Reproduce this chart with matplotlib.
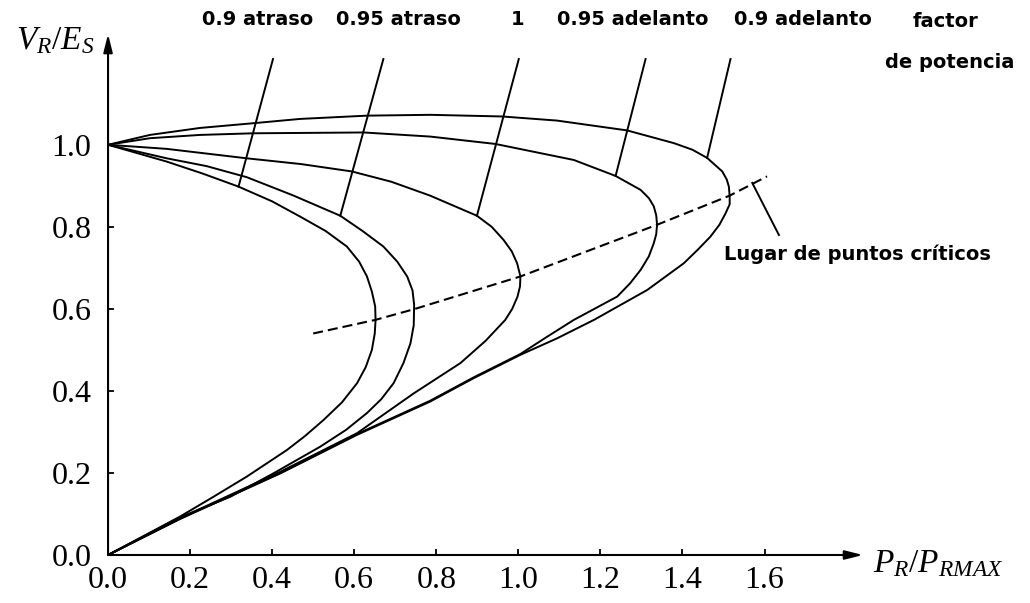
import matplotlib
matplotlib.use("Agg")
import matplotlib.pyplot as plt

plt.rcParams['mathtext.fontset'] = 'custom'
plt.rcParams['mathtext.rm'] = 'Liberation Serif'
plt.rcParams['mathtext.it'] = 'Liberation Serif:italic'

# P_R/P_RMAX and V_R/E_S, one pair per power factor
lag09_p = [0.0, 0.143, 0.230, 0.318, 0.400, 0.468, 0.530, 0.582, 0.612, 0.631, 0.643, 0.651, 0.652, 0.650, 0.643, 0.628, 0.607, 0.570, 0.525, 0.480, 0.436, 0.338, 0.257, 0.176, 0.0]
lag09_v = [1.0, 0.959, 0.930, 0.898, 0.862, 0.825, 0.790, 0.752, 0.715, 0.679, 0.642, 0.606, 0.573, 0.540, 0.500, 0.458, 0.419, 0.372, 0.329, 0.290, 0.256, 0.191, 0.142, 0.094, 0.0]

lag095_p = [0.0, 0.143, 0.240, 0.338, 0.450, 0.566, 0.620, 0.671, 0.705, 0.729, 0.742, 0.746, 0.745, 0.737, 0.720, 0.696, 0.666, 0.631, 0.580, 0.517, 0.403, 0.298, 0.176, 0.0]
lag095_v = [1.0, 0.967, 0.948, 0.921, 0.877, 0.827, 0.790, 0.752, 0.715, 0.679, 0.645, 0.610, 0.560, 0.516, 0.468, 0.419, 0.380, 0.346, 0.305, 0.264, 0.199, 0.142, 0.092, 0.0]

unity_p = [0.0, 0.143, 0.338, 0.470, 0.594, 0.690, 0.785, 0.899, 0.935, 0.964, 0.984, 0.997, 1.005, 1.004, 0.998, 0.985, 0.968, 0.920, 0.859, 0.745, 0.607, 0.420, 0.176, 0.0]
unity_v = [1.0, 0.990, 0.967, 0.953, 0.935, 0.910, 0.876, 0.827, 0.800, 0.768, 0.740, 0.711, 0.679, 0.655, 0.630, 0.600, 0.573, 0.522, 0.468, 0.394, 0.297, 0.203, 0.090, 0.0]

lead095_p = [0.0, 0.102, 0.224, 0.355, 0.623, 0.785, 0.944, 1.135, 1.237, 1.298, 1.318, 1.330, 1.336, 1.338, 1.336, 1.330, 1.318, 1.298, 1.272, 1.241, 1.135, 1.070, 1.005, 0.891, 0.785, 0.607, 0.420, 0.176, 0.0]
lead095_v = [1.0, 1.016, 1.024, 1.028, 1.030, 1.020, 1.002, 0.963, 0.924, 0.890, 0.870, 0.850, 0.828, 0.805, 0.782, 0.760, 0.728, 0.695, 0.662, 0.630, 0.573, 0.532, 0.490, 0.433, 0.376, 0.295, 0.200, 0.089, 0.0]

lead09_p = [0.0, 0.102, 0.224, 0.359, 0.468, 0.631, 0.785, 0.960, 1.094, 1.265, 1.379, 1.424, 1.460, 1.497, 1.508, 1.513, 1.515, 1.515, 1.505, 1.490, 1.468, 1.438, 1.403, 1.314, 1.184, 1.094, 1.005, 0.891, 0.785, 0.607, 0.420, 0.176, 0.0]
lead09_v = [1.0, 1.024, 1.041, 1.053, 1.063, 1.071, 1.073, 1.069, 1.059, 1.035, 1.004, 0.988, 0.968, 0.935, 0.915, 0.898, 0.874, 0.855, 0.833, 0.805, 0.776, 0.745, 0.711, 0.646, 0.573, 0.528, 0.488, 0.431, 0.374, 0.293, 0.199, 0.088, 0.0]

# critical points locus (dashed)
locus_p = [0.50, 0.651, 0.745, 1.005, 1.338, 1.515, 1.606]
locus_v = [0.540, 0.573, 0.599, 0.679, 0.805, 0.876, 0.923]

pf_labels = ["0.9 atraso", "0.95 atraso", "1", "0.95 adelanto", "0.9 adelanto"]
label_x = [0.365, 0.707, 0.998, 1.278, 1.693]
# leader lines: point on curve -> top end
leader_x0 = [0.318, 0.566, 0.899, 1.237, 1.460]
leader_y0 = [0.898, 0.827, 0.827, 0.924, 0.968]
leader_x1 = [0.402, 0.671, 1.001, 1.310, 1.517]
leader_y1 = 1.209

xticks = [0.0, 0.2, 0.4, 0.6, 0.8, 1.0, 1.2, 1.4, 1.6]
yticks = [0.0, 0.2, 0.4, 0.6, 0.8, 1.0]

fig = plt.figure(figsize=(10.3, 6.03), dpi=100)
ax = fig.add_axes([0.1049, 0.0796, 0.733, 0.864])
ax.set_xlim(0, 1.84)
ax.set_ylim(0, 1.27)

curves = [(lag09_p, lag09_v), (lag095_p, lag095_v), (unity_p, unity_v),
          (lead095_p, lead095_v), (lead09_p, lead09_v)]
for p, v in curves:
    ax.plot(p, v, color='black', lw=1.4, solid_joinstyle='round')

ax.plot(locus_p, locus_v, color='black', lw=1.5, dashes=(4.8, 2.4))

for i in range(len(pf_labels)):
    ax.plot([leader_x0[i], leader_x1[i]], [leader_y0[i], leader_y1],
            color='black', lw=1.4, clip_on=False)
    ax.text(label_x[i], 1.305, pf_labels[i], ha='center', va='center',
            fontsize=14, fontweight='bold', family='DejaVu Sans', clip_on=False)

ax.text(2.04, 1.30, "factor", ha='center', va='center', fontsize=14,
        fontweight='bold', family='DejaVu Sans', clip_on=False)
ax.text(2.05, 1.20, "de potencia", ha='center', va='center', fontsize=14,
        fontweight='bold', family='DejaVu Sans', clip_on=False)

ax.plot([1.570, 1.635], [0.907, 0.780], color='black', lw=1.4, clip_on=False)
ax.text(1.50, 0.732, "Lugar de puntos críticos", ha='left', va='center',
        fontsize=14, fontweight='bold', family='DejaVu Sans', clip_on=False)

# axes with arrows
for s in ax.spines.values():
    s.set_visible(False)
arrow = dict(arrowstyle='-|>,head_length=0.6,head_width=0.15', lw=1.5,
             color='black', mutation_scale=18, shrinkA=0, shrinkB=0)
ax.annotate('', xy=(1, 0), xytext=(0, 0), xycoords='axes fraction',
            textcoords='axes fraction', arrowprops=arrow)
ax.annotate('', xy=(0, 1), xytext=(0, 0), xycoords='axes fraction',
            textcoords='axes fraction', arrowprops=arrow)

ax.set_xticks(xticks)
ax.set_yticks(yticks)
ax.set_xticklabels([f"{t:.1f}" for t in xticks])
ax.set_yticklabels([f"{t:.1f}" for t in yticks])
ax.tick_params(direction='in', length=4, width=1.3, labelsize=23, pad=8)
ax.tick_params(axis='y', pad=12)
for lab in ax.get_xticklabels() + ax.get_yticklabels():
    lab.set_family('Liberation Serif')

fig.text(55 / 1030, 1 - 40 / 603, r'$V_R/E_S$', fontsize=24, ha='center', va='center')
fig.text(938 / 1030, 1 - 563 / 603, r'$P_R/P_{RMAX}$', fontsize=24, ha='center', va='center')

fig.savefig('out.png', dpi=100, facecolor='white')
